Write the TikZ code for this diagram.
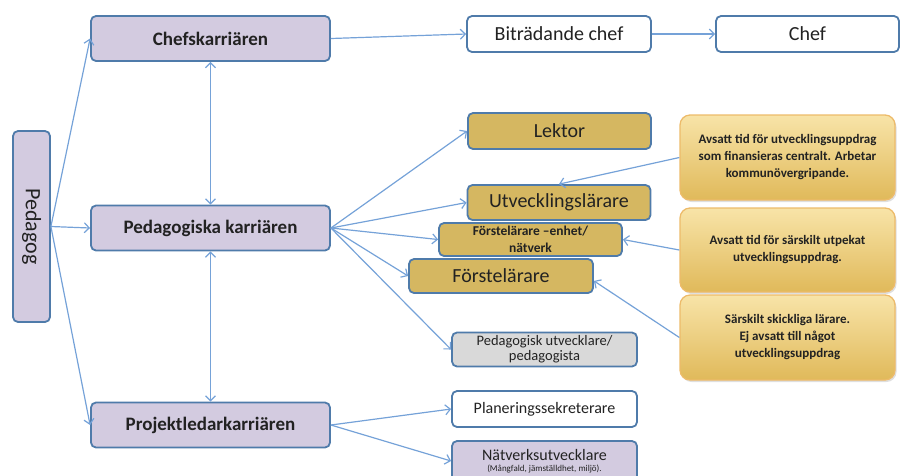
\documentclass[tikz,border=0pt]{standalone}
\usepackage{fontspec}
\setmainfont{Carlito}
\usetikzlibrary{arrows.meta,shadows}

\definecolor{lila}{HTML}{D3CBE0}
\definecolor{ram}{HTML}{4F7BAA}
\definecolor{guld}{HTML}{D5B761}
\definecolor{gra}{HTML}{D9D9D9}
\definecolor{pilfarg}{HTML}{75A2D8}
\definecolor{ljusguld}{HTML}{F8E4A8}
\definecolor{morkguld}{HTML}{E0B95A}
\definecolor{orangeram}{HTML}{EDBB6A}
\definecolor{text}{HTML}{222222}

\begin{document}
\begin{tikzpicture}[x=1pt,y=-1pt,
  ruta/.style={draw=ram, line width=1.8pt, rounded corners=5pt, inner sep=2pt, align=center, text=text},
  karr/.style={ruta, fill=lila, minimum width=239pt, minimum height=45pt, font=\fontsize{19}{22}\selectfont\bfseries},
  steg/.style={ruta, minimum width=184pt, minimum height=36pt, font=\fontsize{20}{24}\selectfont},
  guldruta/.style={steg, fill=guld},
  info/.style={draw=orangeram, line width=1.3pt, rounded corners=10pt, top color=ljusguld, bottom color=morkguld,
    minimum width=215pt, minimum height=85pt, align=center, text=text, font=\fontsize{13}{17}\selectfont\bfseries,
    drop shadow={opacity=0.25, shadow xshift=1.5pt, shadow yshift=-2pt}},
  pil/.style={draw=pilfarg, line width=1.2pt, -{Straight Barb[length=5pt,width=10pt]}},
  dubbelpil/.style={draw=pilfarg, line width=1.2pt, {Straight Barb[length=5pt,width=10pt]}-{Straight Barb[length=5pt,width=10pt]}}
]
\useasboundingbox (0,0) rectangle (901,475);

% vänster kolumn
\node[ruta, fill=lila, minimum width=37pt, minimum height=191pt, font=\fontsize{22}{24}\selectfont] (pedagog) at (31.5,226.5) {\rotatebox{-90}{Pedagog}};
\node[karr] (chefs) at (210.5,38.5) {Chefskarriären};
\node[karr] (pedkarr) at (210.5,228) {Pedagogiska karriären};
\node[karr] (projekt) at (210.5,425) {Projektledarkarriären};

% chefsspåret
\node[steg, fill=white] (bitr) at (559,34) {Biträdande chef};
\node[steg, fill=white, minimum width=183pt] (chef) at (807.5,34) {Chef};

% pedagogiska spåret
\node[guldruta, minimum width=183pt] (lektor) at (559.5,131) {Lektor};
\node[guldruta, minimum width=183pt, minimum height=35pt] (utv) at (559,202.5) {Utvecklingslärare};
\node[guldruta, minimum width=183pt, minimum height=33pt, font=\fontsize{13.5}{17}\selectfont\bfseries] (forstenh) at (530.5,239.5) {Förstelärare –enhet/\\nätverk};
\node[guldruta, minimum width=184pt, minimum height=34pt] (forste) at (501,276) {Förstelärare};
\node[steg, fill=gra, minimum width=185pt, minimum height=34pt, font=\fontsize{14.5}{15}\selectfont] (pedutv) at (544.5,349.5) {Pedagogisk utvecklare/\\pedagogista};

% projektledarspåret
\node[steg, fill=white, minimum width=185pt, font=\fontsize{16}{19}\selectfont] (plan) at (544.5,409) {Planeringssekreterare};
\node[steg, fill=lila, minimum width=185pt, minimum height=40pt, font=\fontsize{16}{11}\selectfont] (natv) at (544.5,461) {Nätverksutvecklare\\{\fontsize{9}{11}\selectfont (Mångfald, jämställdhet, miljö).}};

% förklaringar
\node[info] (info1) at (787.5,157.5) {Avsatt tid för utvecklingsuppdrag\\som finansieras centralt. Arbetar\\kommunövergripande.};
\node[info, minimum height=84pt] (info2) at (787.5,250) {Avsatt tid för särskilt utpekat\\utvecklingsuppdrag.};
\node[info] (info3) at (787.5,337.5) {Särskilt skickliga lärare.\\Ej avsatt till något\\utvecklingsuppdrag};

% pilar
\draw[pil] (pedagog.east) -- (chefs.west);
\draw[pil] (pedagog.east) -- (pedkarr.west);
\draw[pil] (pedagog.east) -- (projekt.west);
\draw[dubbelpil] (chefs.south) -- (pedkarr.north);
\draw[dubbelpil] (pedkarr.south) -- (projekt.north);

\draw[pil] (chefs.east) -- (bitr.west);
\draw[pil] (bitr.east) -- (chef.west);

\draw[pil] (pedkarr.east) -- (lektor.west);
\draw[pil] (pedkarr.east) -- (utv.west);
\draw[pil] (pedkarr.east) -- (forstenh.west);
\draw[pil] (pedkarr.east) -- (forste.west);
\draw[pil] (pedkarr.east) -- (pedutv.west);

\draw[pil] (projekt.east) -- (plan.west);
\draw[pil] (projekt.east) -- (natv.west);

\draw[pil] (info1.west) -- (utv.north);
\draw[pil] (info2.west) -- (forstenh.east);
\draw[pil] (info3.west) -- (forste.-3);

\end{tikzpicture}
\end{document}
